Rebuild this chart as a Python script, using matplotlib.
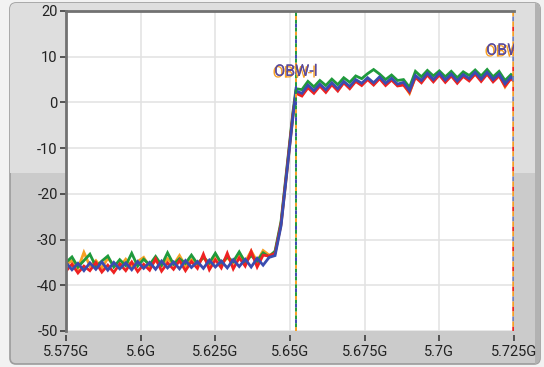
import matplotlib
matplotlib.use('Agg')
import matplotlib.pyplot as plt
import matplotlib.patheffects as pe
from matplotlib.patches import FancyBboxPatch, Rectangle

plt.rcParams['font.family'] = ['Roboto', 'DejaVu Sans']
plt.rcParams['axes.unicode_minus'] = False

# frequency sweep (GHz)
freq = [5.575, 5.577, 5.579, 5.581, 5.583, 5.585, 5.587, 5.589, 5.591, 5.593,
        5.595, 5.597, 5.599, 5.601, 5.603, 5.605, 5.607, 5.609, 5.611, 5.613,
        5.615, 5.617, 5.619, 5.621, 5.623, 5.625, 5.627, 5.629, 5.631, 5.633,
        5.635, 5.637, 5.639, 5.641, 5.643,
        5.645, 5.647, 5.649, 5.650, 5.651, 5.652,
        5.654, 5.656, 5.658, 5.660, 5.662, 5.664, 5.666, 5.668, 5.670, 5.672,
        5.674, 5.676, 5.678, 5.680, 5.682, 5.684, 5.686, 5.688, 5.690, 5.692,
        5.694, 5.696, 5.698, 5.700, 5.702, 5.704, 5.706, 5.708, 5.710, 5.712,
        5.714, 5.716, 5.718, 5.720, 5.722, 5.724, 5.725]

orange = [-35.5, -34.6, -36.4, -32.8, -35.8, -34.6, -36.2, -34.1, -35.6, -36.0,
          -34.3, -35.9, -34.8, -33.9, -36.0, -34.6, -35.7, -34.2, -35.5, -33.5,
          -35.8, -34.4, -35.4, -33.9, -35.6, -33.2, -35.3, -34.0, -35.1, -33.0,
          -34.9, -32.5, -34.8, -32.4, -33.4,
          -32.8, -26.8, -15.0, -8.8, -3.0, 2.2,
          1.6, 3.4, 2.3, 3.8, 2.5, 4.1, 2.7, 4.4, 3.2, 4.8,
          3.9, 5.2, 4.0, 5.4, 3.9, 5.1, 3.8, 4.0, 2.0, 5.7,
          4.5, 6.2, 4.7, 6.2, 4.6, 6.0, 4.4, 5.9, 4.9, 6.4,
          4.8, 6.4, 4.7, 6.0, 3.4, 5.4, 4.8]

green = [-35.0, -33.8, -36.0, -34.6, -33.2, -35.9, -34.7, -33.6, -36.0, -34.4,
         -35.7, -33.0, -35.8, -34.3, -35.5, -33.7, -35.6, -32.9, -35.4, -34.2,
         -35.2, -33.4, -35.3, -33.9, -35.1, -33.0, -35.2, -33.8, -34.8, -32.7,
         -35.0, -33.5, -34.7, -32.9, -33.8,
         -32.5, -26.0, -14.0, -8.0, -2.0, 3.0,
         2.8, 4.6, 3.4, 4.8, 3.7, 5.1, 3.9, 5.4, 4.4, 5.8,
         5.2, 6.3, 7.2, 6.2, 5.0, 6.0, 4.8, 5.0, 3.3, 6.8,
         5.6, 7.0, 5.8, 6.9, 5.6, 6.8, 5.4, 6.7, 5.9, 7.1,
         5.8, 7.2, 5.6, 6.8, 4.8, 6.1, 5.6]

red = [-36.9, -35.4, -37.3, -35.8, -36.8, -35.0, -37.1, -35.6, -37.2, -35.3,
       -36.8, -34.9, -37.0, -35.4, -36.7, -34.2, -36.9, -35.1, -36.5, -34.6,
       -36.8, -34.8, -36.3, -33.2, -36.6, -34.4, -36.2, -33.0, -36.4, -34.0,
       -35.8, -32.6, -36.0, -33.4, -33.6,
       -33.0, -26.5, -14.5, -8.5, -2.5, 2.0,
       1.4, 3.2, 2.0, 3.6, 2.2, 3.9, 2.5, 4.3, 3.0, 4.6,
       3.7, 5.0, 3.8, 5.2, 3.7, 4.9, 3.6, 3.8, 2.2, 5.5,
       4.3, 6.0, 4.5, 6.0, 4.4, 5.8, 4.2, 5.7, 4.7, 6.2,
       4.6, 6.2, 4.5, 5.8, 3.6, 5.2, 4.6]

blue = [-35.0, -36.6, -35.2, -36.8, -35.1, -36.5, -34.9, -36.7, -35.0, -36.4,
        -35.1, -36.6, -34.8, -36.3, -35.0, -36.5, -34.7, -36.2, -34.9, -36.4,
        -34.6, -36.1, -34.8, -36.3, -34.5, -36.0, -34.7, -36.2, -34.4, -35.9,
        -34.3, -36.0, -34.1, -35.6, -33.9,
        -33.5, -27.0, -15.0, -9.0, -3.0, 2.5,
        2.0, 3.8, 2.6, 4.0, 2.8, 4.3, 3.0, 4.6, 3.5, 5.0,
        4.2, 5.4, 4.3, 5.6, 4.2, 5.3, 4.0, 4.4, 2.6, 5.9,
        4.8, 6.4, 5.0, 6.4, 4.9, 6.2, 4.7, 6.1, 5.2, 6.6,
        5.1, 6.6, 5.0, 6.2, 4.1, 5.6, 5.0]

x_ticks = [5.575, 5.6, 5.625, 5.65, 5.675, 5.7, 5.725]
x_labels = ['5.575G', '5.6G', '5.625G', '5.65G', '5.675G', '5.7G', '5.725G']
y_ticks = [-50, -40, -30, -20, -10, 0, 10, 20]

obw_low = 5.652
obw_high = 5.7248

c_orange = '#f7a024'
c_green = '#1f9a3c'
c_red = '#ee2222'
c_blue = '#3a4cb0'
c_label = '#5a4a9a'

W, H = 544, 367
fig = plt.figure(figsize=(W / 100, H / 100), dpi=100)
fig.patch.set_facecolor('#f2f2f2')

# LabVIEW style panel behind the graph
bg = fig.add_axes([0, 0, 1, 1])
bg.set_xlim(0, W)
bg.set_ylim(H, 0)
bg.axis('off')
panel = FancyBboxPatch((10, 3), 530, 361, boxstyle='round,pad=0,rounding_size=6',
                       facecolor='#cbcbcb', edgecolor='#9c9c9c', lw=1.2)
bg.add_patch(panel)
upper = Rectangle((0, 0), W, 173, facecolor='#dedede', edgecolor='none')
bg.add_patch(upper)
upper.set_clip_path(panel)
shade = Rectangle((535, 0), 6, H, facecolor='#b2b2b2', edgecolor='none')
bg.add_patch(shade)
shade.set_clip_path(panel)

ax = fig.add_axes([66 / W, 1 - 331 / H, 448 / W, 320 / H])
ax.set_facecolor('white')

for vals, col in [(orange, c_orange), (green, c_green), (red, c_red), (blue, c_blue)]:
    ax.plot(freq, vals, color=col, lw=2.0, solid_joinstyle='miter')

# marker cursors, dashed in several colours
for i, col in enumerate([c_orange, c_green, c_blue, c_green]):
    ax.axvline(obw_low, color=col, lw=1.4, linestyle=(i * 2, (2, 6)))
for i, col in enumerate([c_red, c_orange, '#7080c0', c_orange]):
    ax.axvline(obw_high, color=col, lw=1.8, linestyle=(i * 2, (2, 6)))

# cursor labels with the orange ghost underneath
shadow = [pe.withSimplePatchShadow(offset=(-1.2, -1.2), shadow_rgbFace=c_orange, alpha=1.0),
          pe.Normal()]
ax.text(obw_low, 6.8, 'OBW-l', color=c_label, fontsize=11.5,
        ha='center', va='center', path_effects=shadow)
ax.text(5.7157, 11.4, 'OBW-h', color=c_label, fontsize=11.5,
        ha='left', va='center', clip_on=True, path_effects=shadow)

ax.set_xlim(5.575, 5.725)
ax.set_ylim(-50, 20)
ax.set_xticks(x_ticks)
ax.set_xticklabels(x_labels)
ax.set_yticks(y_ticks)
ax.grid(True, color='#e2e2e2', lw=1.1)
ax.set_axisbelow(True)

for side in ['left', 'top']:
    ax.spines[side].set_color('#727272')
    ax.spines[side].set_linewidth(2)
ax.spines['right'].set_visible(False)
ax.spines['bottom'].set_position(('outward', 3))
ax.spines['bottom'].set_visible(False)

ax.tick_params(axis='y', direction='out', length=4.5, width=1.1, color='#303030',
               labelsize=10.5, labelcolor='#222222', pad=1.5)
ax.tick_params(axis='x', direction='out', length=4, width=1.1, color='#303030',
               labelsize=10.5, labelcolor='#222222', pad=3)

fig.savefig('out.png', dpi=100, facecolor=fig.get_facecolor())
